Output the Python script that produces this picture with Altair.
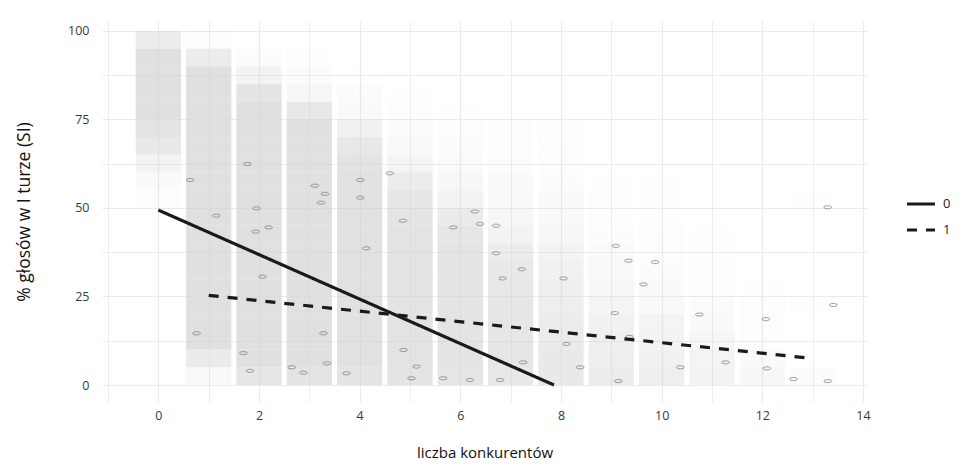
import altair as alt
import pandas as pd

# ---- point-cloud density ----
# one list per column (number of competitors 0..13); each list gives the
# visual density of the jittered points in 5-point bins of the y axis,
# from 0-5 % up to 95-100 %
bin_width = 5
dens_c0 = [0, 0, 0, 0, 0, 0, 0, 0, 0, 0, 0.08, 0.15, 0.4, 0.7, 0.9, 1, 1, 1, 1, 0.6]
dens_c1 = [0.2, 0.65, 1, 1, 1, 1, 1, 1, 1, 1, 1, 1, 1, 1, 1, 1, 1, 1, 0.6, 0.05]
dens_c2 = [0.8, 1, 1, 1, 1, 1, 1, 1, 1, 1, 1, 1, 1, 1, 1, 1, 0.85, 0.4, 0.1, 0]
dens_c3 = [0.85, 1, 1, 1, 1, 1, 1, 1, 1, 1, 1, 1, 1, 1, 1, 0.75, 0.3, 0.12, 0.03, 0]
dens_c4 = [0.85, 0.95, 0.95, 0.95, 0.95, 0.95, 0.95, 0.95, 0.95, 0.95, 0.95, 0.95, 0.9, 0.75, 0.45, 0.2, 0.12, 0.03, 0, 0]
dens_c5 = [0.85, 0.9, 0.9, 0.9, 0.9, 0.9, 0.9, 0.9, 0.9, 0.85, 0.8, 0.6, 0.35, 0.2, 0.1, 0.08, 0.02, 0, 0, 0]
dens_c6 = [0.8, 0.85, 0.85, 0.85, 0.85, 0.85, 0.85, 0.85, 0.8, 0.65, 0.4, 0.25, 0.15, 0.12, 0.06, 0.02, 0, 0, 0, 0]
dens_c7 = [0.75, 0.8, 0.8, 0.8, 0.8, 0.75, 0.7, 0.6, 0.4, 0.3, 0.2, 0.15, 0.1, 0.08, 0.05, 0, 0, 0, 0, 0]
dens_c8 = [0.7, 0.7, 0.65, 0.6, 0.55, 0.5, 0.45, 0.4, 0.25, 0.2, 0.15, 0.1, 0.08, 0.06, 0.04, 0, 0, 0, 0, 0]
dens_c9 = [0.6, 0.55, 0.5, 0.45, 0.35, 0.25, 0.2, 0.15, 0.1, 0.08, 0.05, 0.02, 0, 0, 0, 0, 0, 0, 0, 0]
dens_c10 = [0.5, 0.45, 0.4, 0.35, 0.2, 0.15, 0.1, 0.08, 0.06, 0.04, 0.03, 0.02, 0, 0, 0, 0, 0, 0, 0, 0]
dens_c11 = [0.4, 0.35, 0.3, 0.2, 0.12, 0.08, 0.06, 0.04, 0.02, 0, 0, 0, 0, 0, 0, 0, 0, 0, 0, 0]
dens_c12 = [0.25, 0.15, 0.08, 0.05, 0.05, 0.03, 0, 0, 0, 0, 0, 0, 0, 0, 0, 0, 0, 0, 0, 0]
dens_c13 = [0.1, 0, 0, 0, 0.05, 0, 0, 0, 0, 0, 0.03, 0, 0, 0, 0, 0, 0, 0, 0, 0]
columns = [dens_c0, dens_c1, dens_c2, dens_c3, dens_c4, dens_c5, dens_c6,
           dens_c7, dens_c8, dens_c9, dens_c10, dens_c11, dens_c12, dens_c13]
jitter_half = 0.45

# ---- darker highlighted points (positions) ----
dark_x = [0.63, 1.77, 1.15, 1.95, 1.93, 2.19, 3.11, 3.31, 3.23, 4.01, 4.01, 4.60, 4.86,
          4.13, 2.07, 0.76, 1.69, 1.82, 2.65, 2.88, 3.28, 3.74, 5.03, 5.66, 6.29, 6.39,
          5.86, 4.87, 5.13, 3.35, 6.19, 6.71, 6.71, 7.22, 6.84, 8.05, 9.09, 9.34, 9.87,
          9.64, 9.07, 10.75, 12.07, 13.41, 13.30, 10.37, 11.27, 12.62, 13.30, 9.14, 8.11,
          8.38, 7.25, 6.79, 9.36, 12.09]
dark_y = [57.9, 62.4, 47.8, 49.9, 43.3, 44.5, 56.3, 54.0, 51.5, 57.9, 52.9, 59.8, 46.4,
          38.6, 30.6, 14.6, 9.0, 4.0, 5.0, 3.5, 14.6, 3.3, 1.9, 1.9, 49.0, 45.5,
          44.5, 9.9, 5.2, 6.1, 1.4, 45.0, 37.2, 32.7, 30.1, 30.1, 39.3, 35.1, 34.7,
          28.4, 20.3, 19.9, 18.6, 22.6, 50.2, 5.0, 6.4, 1.7, 1.1, 1.1, 11.6,
          5.0, 6.4, 1.4, 13.6, 4.7]

# ---- fitted lines (end points) ----
line0_x = [0.0, 7.86]
line0_y = [49.4, 0.0]
line1_x = [1.0, 13.0]
line1_y = [25.3, 7.5]

rows = []
for c, dens in enumerate(columns):
    for b, d in enumerate(dens):
        if d > 0:
            rows.append({"x1": c - jitter_half, "x2": c + jitter_half,
                         "y1": b * bin_width, "y2": (b + 1) * bin_width, "d": d})
cloud = pd.DataFrame(rows)
dark = pd.DataFrame({"x": dark_x, "y": dark_y})

lines = pd.DataFrame(
    [{"x": x, "y": y, "g": "0"} for x, y in zip(line0_x, line0_y)]
    + [{"x": x, "y": y, "g": "1"} for x, y in zip(line1_x, line1_y)]
)

FONT = "Open Sans"
xscale = alt.Scale(domain=[-1.12, 14.08], nice=False, zero=False)
yscale = alt.Scale(domain=[-4.8, 102.8], nice=False, zero=False)

xaxis = alt.Axis(
    values=list(range(-1, 15)),
    labelExpr="datum.value % 2 == 0 ? datum.label : ''",
    title="liczba konkurentów",
    grid=True, ticks=False, domain=False,
    gridColor="#ebebeb",
    gridWidth={"condition": {"test": "datum.value % 2 == 0", "value": 1.2}, "value": 0.9},
    labelFont=FONT, labelFontSize=12.5, labelColor="#3a3a3a", labelPadding=7,
    titleFont=FONT, titleFontSize=15, titleFontWeight="normal", titleColor="#111111",
    titleY=50, titleBaseline="middle",
)
yaxis = alt.Axis(
    values=[0, 12.5, 25, 37.5, 50, 62.5, 75, 87.5, 100],
    labelExpr="datum.value % 25 == 0 ? datum.label : ''",
    title="% głosów w I turze (SI)",
    grid=True, ticks=False, domain=False,
    gridColor="#ebebeb",
    gridWidth={"condition": {"test": "datum.value % 25 == 0", "value": 1.2}, "value": 0.9},
    labelFont=FONT, labelFontSize=12.5, labelColor="#3a3a3a", labelPadding=13,
    titleFont=FONT, titleFontSize=17.5, titleFontWeight="normal", titleColor="#111111",
    titleX=-78, titleY=190.5, titleBaseline="middle",
)

points = alt.Chart(cloud).mark_rect(color="#cfcfcf", strokeWidth=0).encode(
    x=alt.X("x1:Q", scale=xscale, axis=xaxis),
    x2="x2:Q",
    y=alt.Y("y1:Q", scale=yscale, axis=yaxis),
    y2="y2:Q",
    opacity=alt.Opacity("d:Q", scale=alt.Scale(domain=[0, 1], range=[0, 0.65]), legend=None),
)

ellipse = "M -1 0 A 1 0.4 0 1 0 1 0 A 1 0.4 0 1 0 -1 0 Z"
darkpts = alt.Chart(dark).mark_point(
    shape=ellipse, size=60, filled=False, stroke="#777777", strokeWidth=0.9, opacity=0.8
).encode(
    x=alt.X("x:Q", scale=xscale),
    y=alt.Y("y:Q", scale=yscale),
)

fits = alt.Chart(lines).mark_line(color="#1a1a1a", strokeWidth=3.2, strokeCap="butt").encode(
    x=alt.X("x:Q", scale=xscale),
    y=alt.Y("y:Q", scale=yscale),
    strokeDash=alt.StrokeDash(
        "g:N",
        scale=alt.Scale(domain=["0", "1"], range=[[1, 0], [10, 9]]),
        legend=alt.Legend(
            title=None, orient="none", legendX=803, legendY=175,
            symbolType="stroke", symbolSize=784, symbolStrokeWidth=3.2,
            symbolStrokeColor="#1a1a1a", clipHeight=16, rowPadding=10,
            labelFont=FONT, labelFontSize=13, labelColor="#222222", labelOffset=6,
            padding=0,
        ),
    ),
)

chart = alt.layer(points, darkpts, fits).properties(
    width=765, height=381,
    background="white",
    autosize=alt.AutoSizeParams(type="none"),
    padding={"left": 94, "top": 13, "right": 89, "bottom": 60},
).configure_view(stroke=None)

chart.save("out.html", embed_options={"renderer": "svg", "actions": False})
